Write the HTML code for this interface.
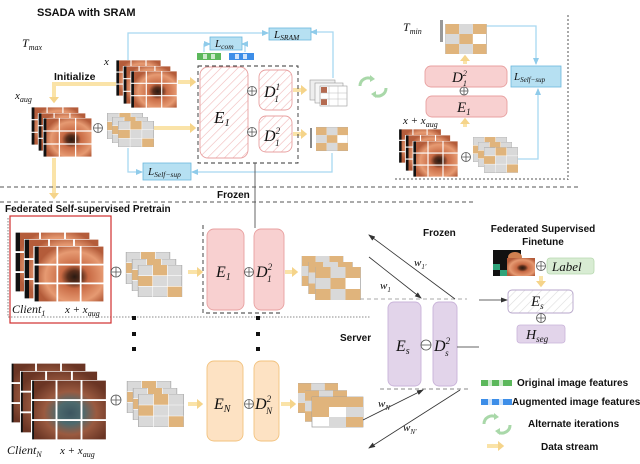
<!DOCTYPE html>
<html><head><meta charset="utf-8"><style>
html,body{margin:0;padding:0;background:#fff;}
svg{display:block;}
.b{font-family:"Liberation Sans",sans-serif;font-weight:bold;fill:#111;}
.m{font-family:"Liberation Serif",serif;font-style:italic;fill:#111;}
</style></head><body>
<svg width="640" height="464" viewBox="0 0 640 464" xmlns="http://www.w3.org/2000/svg">
<defs>
<radialGradient id="eg" cx="0.55" cy="0.55" r="0.6">
<stop offset="0" stop-color="#2a1a12"/><stop offset="0.18" stop-color="#5a2e1c"/><stop offset="0.35" stop-color="#c86a44"/><stop offset="0.75" stop-color="#e69a72"/><stop offset="1" stop-color="#b45c3a"/></radialGradient>
<radialGradient id="eg2" cx="0.5" cy="0.55" r="0.6">
<stop offset="0" stop-color="#3c5560"/><stop offset="0.3" stop-color="#4e6a6e"/><stop offset="0.6" stop-color="#9a5a40"/><stop offset="1" stop-color="#6a3524"/></radialGradient>
<pattern id="hp" width="6" height="6" patternUnits="userSpaceOnUse" patternTransform="rotate(45)"><rect width="6" height="6" fill="#fff"/><line x1="0" y1="0" x2="0" y2="6" stroke="#f0b8b8" stroke-width="1.2"/></pattern>
<pattern id="hg" width="6" height="6" patternUnits="userSpaceOnUse" patternTransform="rotate(45)"><rect width="6" height="6" fill="#fff"/><line x1="0" y1="0" x2="0" y2="6" stroke="#ddd" stroke-width="1.2"/></pattern>
<symbol id="endo" viewBox="0 0 60 48"><rect width="60" height="48" fill="#111"/><rect x="4" width="56" height="48" fill="url(#eg)"/><g stroke="#fff" stroke-width="1.5"><line x1="20" y1="0" x2="20" y2="48"/><line x1="40" y1="0" x2="40" y2="48"/><line x1="0" y1="16" x2="60" y2="16"/><line x1="0" y1="32" x2="60" y2="32"/></g><rect width="60" height="48" fill="none" stroke="#fff" stroke-width="1"/></symbol>
<symbol id="endo2" viewBox="0 0 60 48"><rect width="60" height="48" fill="#111"/><rect x="2" width="58" height="48" fill="url(#eg2)"/><g stroke="#fff" stroke-width="1.5"><line x1="20" y1="0" x2="20" y2="48"/><line x1="40" y1="0" x2="40" y2="48"/><line x1="0" y1="16" x2="60" y2="16"/><line x1="0" y1="32" x2="60" y2="32"/></g><rect width="60" height="48" fill="none" stroke="#fff" stroke-width="1"/></symbol>
<symbol id="puz" viewBox="0 0 45 33"><rect width="45" height="33" fill="#d9d9d9" stroke="#aaa" stroke-width="0.8"/><rect x="15" y="0" width="15" height="11" fill="#e0b47c"/><rect x="30" y="22" width="15" height="11" fill="#e0b47c"/><rect x="0" y="11" width="15" height="11" fill="#e0b47c"/><g stroke="#fff" stroke-width="0.6"><line x1="15" y1="0" x2="15" y2="33"/><line x1="30" y1="0" x2="30" y2="33"/><line x1="0" y1="11" x2="45" y2="11"/><line x1="0" y1="22" x2="45" y2="22"/></g></symbol>
<symbol id="puz2" viewBox="0 0 45 33"><rect width="45" height="33" fill="#fff" stroke="#aaa" stroke-width="0.8"/><rect x="0" y="0" width="15" height="11" fill="#e0b47c"/><rect x="30" y="0" width="15" height="11" fill="#e0b47c"/><rect x="15" y="11" width="15" height="11" fill="#e0b47c"/><rect x="0" y="22" width="15" height="11" fill="#e0b47c"/><rect x="30" y="22" width="15" height="11" fill="#e0b47c"/><rect x="15" y="0" width="15" height="11" fill="#d9d9d9"/><rect x="0" y="11" width="15" height="11" fill="#d9d9d9"/><rect x="15" y="22" width="15" height="11" fill="#d9d9d9"/></symbol>
<marker id="ya" markerWidth="2" markerHeight="2.6" refX="0.3" refY="1.3" orient="auto" markerUnits="strokeWidth"><path d="M0,0 L1.6,1.3 L0,2.6 z" fill="#f5d48a"/></marker>
<marker id="ba" markerWidth="8" markerHeight="8" refX="6" refY="4" orient="auto" markerUnits="userSpaceOnUse"><path d="M0,1 L7,4 L0,7 z" fill="#8fcbea"/></marker>
<marker id="ka" markerWidth="8" markerHeight="8" refX="6" refY="4" orient="auto" markerUnits="userSpaceOnUse"><path d="M0,1.5 L7,4 L0,6.5 z" fill="#333"/></marker>
</defs>

<text class="b" x="37" y="16" font-size="11">SSADA with SRAM</text>
<text class="m" x="22" y="47" font-size="12">T<tspan font-size="8" dy="3">max</tspan></text>
<text class="m" x="104" y="65" font-size="11">x</text>
<text class="b" x="54" y="80" font-size="10.5">Initialize</text>
<text class="m" x="15" y="99" font-size="11">x<tspan font-size="8" dy="3">aug</tspan></text>

<g stroke="#a8d8f0" stroke-width="1.3" fill="none">
<polyline points="128,65 128,33 268,33" marker-end="url(#ba)"/>
<polyline points="333,78 333,32 311,32" marker-end="url(#ba)"/>
<polyline points="204,52 204,44 210,44" marker-end="url(#ba)"/>
<polyline points="245,52 245,44 242,44" marker-end="url(#ba)"/>
<polyline points="128,148 128,172 142,172" marker-end="url(#ba)"/>
<polyline points="332,153 332,172 192,172" marker-end="url(#ba)"/>
<polyline points="482,26 536,26 536,64" marker-end="url(#ba)"/>
<polyline points="518,159 538,159 538,89" marker-end="url(#ba)"/>
</g>
<rect x="269" y="28" width="42" height="12" fill="#b6e0f2" stroke="#6bb8dc" stroke-width="0.8"/>
<text class="m" x="274" y="38" font-size="11">L<tspan font-size="7.5" dy="2">SRAM</tspan></text>
<rect x="210" y="37" width="32" height="13" fill="#b6e0f2" stroke="#6bb8dc" stroke-width="0.8"/>
<text class="m" x="215" y="47" font-size="11">L<tspan font-size="7.5" dy="2">com</tspan></text>
<g><rect x="197" y="53" width="24" height="7" fill="#5cb85c"/><rect x="203" y="54" width="4" height="5" fill="#cdeacd"/><rect x="211" y="54" width="4" height="5" fill="#cdeacd"/>
<rect x="229" y="53" width="25" height="7" fill="#3d8ee8"/><rect x="235" y="54" width="4" height="5" fill="#cfe3fa"/><rect x="243" y="54" width="4" height="5" fill="#cfe3fa"/></g>
<rect x="143" y="163" width="48" height="17" fill="#b6e0f2" stroke="#6bb8dc" stroke-width="0.8"/>
<text class="m" x="148" y="175" font-size="11">L<tspan font-size="7.5" dy="2">Self−sup</tspan></text>

<use href="#endo" x="116" y="60" width="45" height="36"/>
<use href="#endo" x="122" y="66" width="50" height="38"/>
<use href="#endo" x="130" y="71" width="48" height="37"/>
<g stroke="#fae3a8" stroke-width="4" fill="none">
<polyline points="116,84 54,84 54,98" marker-end="url(#ya)"/>
<line x1="178" y1="82" x2="191" y2="82" marker-end="url(#ya)"/>
<line x1="154" y1="128" x2="191" y2="128" marker-end="url(#ya)"/>
<line x1="54" y1="158" x2="54" y2="194" marker-end="url(#ya)"/>
<line x1="293" y1="90" x2="302" y2="90" marker-end="url(#ya)"/>
<line x1="293" y1="134" x2="302" y2="134" marker-end="url(#ya)"/>
<line x1="465" y1="64" x2="465" y2="60" marker-end="url(#ya)"/>
<line x1="465" y1="127" x2="465" y2="123" marker-end="url(#ya)"/>
<line x1="188" y1="272" x2="198" y2="272" marker-end="url(#ya)"/>
<line x1="285" y1="272" x2="293" y2="272" marker-end="url(#ya)"/>
<line x1="188" y1="404" x2="198" y2="404" marker-end="url(#ya)"/>
<line x1="281" y1="404" x2="291" y2="404" marker-end="url(#ya)"/>
<line x1="541" y1="276" x2="541" y2="282" marker-end="url(#ya)"/>
<line x1="487" y1="446" x2="499" y2="446" marker-end="url(#ya)"/>
</g>
<use href="#endo" x="31" y="107" width="48" height="38"/>
<use href="#endo" x="37" y="113" width="50" height="38"/>
<use href="#endo" x="43" y="118" width="49" height="39"/>
<circle cx="98" cy="128" r="4.5" fill="#fff" stroke="#555" stroke-width="0.8"/><path d="M93.5,128h9M98,123.5v9" stroke="#555" stroke-width="0.8"/>
<use href="#puz" x="107" y="113" width="36" height="26"/>
<use href="#puz" x="112" y="117" width="36" height="26"/>
<use href="#puz" x="118" y="121" width="36" height="26"/>

<rect x="198" y="66" width="100" height="97" fill="none" stroke="#333" stroke-width="0.9" stroke-dasharray="4,3"/>
<rect x="200" y="67" width="48" height="91" rx="8" fill="url(#hp)" stroke="#e8a0a0" stroke-width="0.9"/>
<text class="m" x="214" y="123" font-size="17">E<tspan font-size="11" dy="3">1</tspan></text>
<rect x="259" y="70" width="33" height="40" rx="7" fill="url(#hp)" stroke="#e8a0a0" stroke-width="0.9"/>
<rect x="259" y="116" width="33" height="36" rx="7" fill="url(#hp)" stroke="#e8a0a0" stroke-width="0.9"/>
<text class="m" x="264" y="97" font-size="16">D<tspan font-size="9" dy="-7">1</tspan><tspan font-size="9" dx="-5" dy="12">1</tspan></text>
<text class="m" x="264" y="141" font-size="16">D<tspan font-size="9" dy="-7">2</tspan><tspan font-size="9" dx="-5" dy="12">1</tspan></text>
<g fill="#fff" stroke="#555" stroke-width="0.8"><circle cx="252" cy="91" r="4.5"/><circle cx="252" cy="132" r="4.5"/></g>
<path d="M247.5,91h9M252,86.5v9M247.5,132h9M252,127.5v9" stroke="#555" stroke-width="0.8"/>
<rect x="310" y="80" width="25" height="20" fill="#eee" stroke="#999" stroke-width="0.6"/>
<rect x="315" y="83" width="28" height="20" fill="#f6f6f6" stroke="#999" stroke-width="0.6"/>
<rect x="320" y="86" width="27" height="20" fill="#fff" stroke="#999" stroke-width="0.6"/>
<rect x="321" y="87" width="6" height="6" fill="#b46a50"/><rect x="321" y="99" width="6" height="6" fill="#b46a50"/>
<path d="M329,86v20M338,86v20M320,93h27M320,99h27" stroke="#bbb" stroke-width="0.5"/>
<use href="#puz2" x="316" y="126" width="32" height="26"/>
<rect x="310" y="128" width="2" height="20" fill="#888"/>
<g fill="none" stroke="#a9d8a9" stroke-width="3"><path d="M360,86 a8,8 0 0 1 12,-7" /><path d="M386,88 a8,8 0 0 1 -12,7"/></g>
<path d="M370,75 l5,4 -5,3z M376,98 l-5,-4 5,-3z" fill="#a9d8a9"/>

<line x1="568" y1="15" x2="568" y2="180" stroke="#555" stroke-width="1" stroke-dasharray="2,2"/>
<line x1="395" y1="179" x2="568" y2="179" stroke="#555" stroke-width="1" stroke-dasharray="2,2"/>
<text class="m" x="403" y="31" font-size="12">T<tspan font-size="8" dy="3">min</tspan></text>
<rect x="440" y="20" width="3" height="22" fill="#999"/>
<use href="#puz2" x="445" y="24" width="42" height="30"/>
<rect x="425" y="66" width="82" height="21" rx="6" fill="#f8d0d0" stroke="#e8a0a0" stroke-width="0.9"/>
<text class="m" x="452" y="82" font-size="15">D<tspan font-size="8" dy="-6">2</tspan><tspan font-size="8" dx="-4" dy="10">1</tspan></text>
<circle cx="464" cy="91" r="4" fill="#fff" stroke="#555" stroke-width="0.8"/><path d="M460,91h8M464,87v8" stroke="#555" stroke-width="0.8"/>
<rect x="426" y="96" width="81" height="21" rx="6" fill="#f8d0d0" stroke="#e8a0a0" stroke-width="0.9"/>
<text class="m" x="457" y="112" font-size="15">E<tspan font-size="9" dy="3">1</tspan></text>
<text class="m" x="403" y="124" font-size="11">x + x<tspan font-size="8" dy="3">aug</tspan></text>
<rect x="511" y="66" width="50" height="21" fill="#b6e0f2" stroke="#6bb8dc" stroke-width="0.8"/>
<text class="m" x="514" y="80" font-size="11">L<tspan font-size="7" dy="2">Self−sup</tspan></text>
<use href="#endo" x="398" y="129" width="44" height="34"/>
<use href="#endo" x="404" y="135" width="48" height="36"/>
<use href="#endo" x="412" y="141" width="47" height="36"/>
<circle cx="466" cy="157" r="4.5" fill="#fff" stroke="#555" stroke-width="0.8"/><path d="M461.5,157h9M466,152.5v9" stroke="#555" stroke-width="0.8"/>
<use href="#puz" x="473" y="137" width="34" height="25"/>
<use href="#puz" x="478" y="142" width="34" height="25"/>
<use href="#puz" x="484" y="147" width="34" height="26"/>

<line x1="0" y1="187" x2="580" y2="187" stroke="#555" stroke-width="0.9" stroke-dasharray="4,3"/>
<line x1="0" y1="202" x2="475" y2="202" stroke="#555" stroke-width="0.9" stroke-dasharray="4,3"/>
<text class="b" x="217" y="198" font-size="10">Frozen</text>
<line x1="255" y1="163" x2="255" y2="228" stroke="#555" stroke-width="0.9"/>

<text class="b" x="5" y="212" font-size="10">Federated Self-supervised Pretrain</text>
<line x1="8" y1="218" x2="8" y2="317" stroke="#666" stroke-width="0.8" stroke-dasharray="1.5,1.5"/>
<line x1="8" y1="317" x2="370" y2="317" stroke="#666" stroke-width="0.8" stroke-dasharray="1.5,1.5"/>
<rect x="10" y="216" width="101" height="107" fill="none" stroke="#d03030" stroke-width="1.2"/>
<use href="#endo" x="15" y="232" width="75" height="60"/>
<use href="#endo" x="24" y="239" width="75" height="60"/>
<use href="#endo" x="31" y="246" width="76" height="56"/>
<text class="m" x="12" y="313" font-size="12">Client<tspan font-size="8" dy="3">1</tspan></text>
<text class="m" x="65" y="313" font-size="11">x + x<tspan font-size="8" dy="3">aug</tspan></text>
<circle cx="116" cy="272" r="5" fill="#fff" stroke="#555" stroke-width="0.8"/><path d="M111,272h10M116,267v10" stroke="#555" stroke-width="0.8"/>
<use href="#puz" x="123" y="252" width="50" height="32"/>
<use href="#puz" x="129" y="259" width="50" height="32"/>
<use href="#puz" x="135" y="265" width="50" height="32"/>
<g fill="#111"><rect x="132" y="316" width="4" height="4"/><rect x="132" y="332" width="4" height="4"/><rect x="132" y="347" width="4" height="4"/>
<rect x="256" y="316" width="4" height="4"/><rect x="256" y="332" width="4" height="4"/><rect x="256" y="347" width="4" height="4"/></g>

<polyline points="203,225 203,313 282,313" fill="none" stroke="#333" stroke-width="0.9" stroke-dasharray="4,3"/>
<rect x="207" y="229" width="37" height="81" rx="7" fill="#f8d0d0" stroke="#e8a0a0" stroke-width="0.9"/>
<rect x="254" y="229" width="30" height="81" rx="7" fill="#f8d0d0" stroke="#e8a0a0" stroke-width="0.9"/>
<text class="m" x="216" y="277" font-size="16">E<tspan font-size="10" dy="3">1</tspan></text>
<text class="m" x="256" y="277" font-size="16">D<tspan font-size="9" dy="-7">2</tspan><tspan font-size="9" dx="-5" dy="12">1</tspan></text>
<circle cx="249" cy="272" r="4.5" fill="#fff" stroke="#555" stroke-width="0.8"/><path d="M244.5,272h9M249,267.5v9" stroke="#555" stroke-width="0.8"/>
<use href="#puz2" x="300" y="256" width="45" height="30"/>
<use href="#puz2" x="308" y="262" width="45" height="32"/>
<use href="#puz2" x="313" y="267" width="50" height="33"/>

<text class="b" x="340" y="341" font-size="10">Server</text>

<use href="#endo2" x="11" y="363" width="75" height="60"/>
<use href="#endo2" x="20" y="371" width="78" height="62"/>
<use href="#endo2" x="31" y="380" width="76" height="60"/>
<text class="m" x="7" y="454" font-size="12">Client<tspan font-size="8" dy="3">N</tspan></text>
<text class="m" x="60" y="454" font-size="11">x + x<tspan font-size="8" dy="3">aug</tspan></text>
<circle cx="116" cy="400" r="5" fill="#fff" stroke="#555" stroke-width="0.8"/><path d="M111,400h10M116,395v10" stroke="#555" stroke-width="0.8"/>
<use href="#puz" x="124" y="381" width="50" height="32"/>
<use href="#puz" x="130" y="388" width="50" height="32"/>
<use href="#puz" x="136" y="394" width="50" height="33"/>
<rect x="207" y="361" width="36" height="80" rx="7" fill="#fde2c3" stroke="#f2c27e" stroke-width="0.9"/>
<rect x="254" y="361" width="25" height="80" rx="7" fill="#fde2c3" stroke="#f2c27e" stroke-width="0.9"/>
<text class="m" x="214" y="409" font-size="16">E<tspan font-size="10" dy="3">N</tspan></text>
<text class="m" x="255" y="409" font-size="16">D<tspan font-size="9" dy="-7">2</tspan><tspan font-size="9" dx="-5" dy="12">N</tspan></text>
<circle cx="249" cy="404" r="4.5" fill="#fff" stroke="#555" stroke-width="0.8"/><path d="M244.5,404h9M249,399.5v9" stroke="#555" stroke-width="0.8"/>
<use href="#puz2" x="298" y="383" width="40" height="30"/>
<use href="#puz2" x="305" y="390" width="42" height="32"/>
<rect x="312" y="397" width="51" height="30" fill="#fff" stroke="#999" stroke-width="0.7"/>
<rect x="312" y="397" width="51" height="10" fill="#e0b47c"/><rect x="312" y="407" width="17" height="10" fill="#e0b47c"/><rect x="346" y="417" width="17" height="10" fill="#e0b47c"/><rect x="346" y="407" width="17" height="10" fill="#d9d9d9"/><rect x="329" y="417" width="17" height="10" fill="#d9d9d9"/>

<line x1="360" y1="299" x2="467" y2="299" stroke="#aaa" stroke-width="0.9" stroke-dasharray="4,3"/>
<line x1="380" y1="389" x2="470" y2="389" stroke="#888" stroke-width="0.9" stroke-dasharray="4,3"/>
<rect x="388" y="302" width="33" height="84" rx="6" fill="#e2d4ea" stroke="#c9b3d9" stroke-width="0.9"/>
<rect x="433" y="302" width="24" height="84" rx="6" fill="#e2d4ea" stroke="#c9b3d9" stroke-width="0.9"/>
<text class="m" x="396" y="351" font-size="16">E<tspan font-size="10" dy="3">s</tspan></text>
<text class="m" x="434" y="351" font-size="16">D<tspan font-size="9" dy="-7">2</tspan><tspan font-size="9" dx="-5" dy="12">s</tspan></text>
<circle cx="426" cy="345" r="5" fill="#fff" stroke="#555" stroke-width="0.8"/><path d="M421,345h10" stroke="#555" stroke-width="0.8"/>
<text class="b" x="423" y="236" font-size="10">Frozen</text>
<g stroke="#333" stroke-width="0.8">
<line x1="455" y1="299" x2="369" y2="235" marker-end="url(#ka)"/>
<line x1="369" y1="257" x2="421" y2="298" marker-end="url(#ka)"/>
<line x1="363" y1="420" x2="423" y2="390" marker-end="url(#ka)"/>
<line x1="460" y1="390" x2="369" y2="448" marker-end="url(#ka)"/>
<line x1="479" y1="300" x2="507" y2="300" marker-end="url(#ka)"/>
<line x1="457" y1="347" x2="479" y2="347"/>
</g>
<text class="m" x="414" y="266" font-size="11">w<tspan font-size="7" dy="3">1′</tspan></text>
<text class="m" x="380" y="289" font-size="11">w<tspan font-size="7" dy="3">1</tspan></text>
<text class="m" x="378" y="407" font-size="11">w<tspan font-size="7" dy="3">N</tspan></text>
<text class="m" x="403" y="431" font-size="11">w<tspan font-size="7" dy="3">N′</tspan></text>

<text class="b" x="543" y="232" font-size="10" text-anchor="middle">Federated Supervised</text>
<text class="b" x="543" y="245" font-size="10" text-anchor="middle">Finetune</text>
<rect x="493" y="250" width="28" height="26" fill="#111"/>
<rect x="493" y="264" width="7" height="6" fill="#2fa37a"/><rect x="500" y="270" width="9" height="6" fill="#2fa37a"/>
<ellipse cx="515" cy="257" rx="7" ry="5" fill="#d08050"/>
<rect x="507" y="258" width="28" height="18" fill="url(#eg)"/>
<circle cx="541" cy="266" r="4.5" fill="#fff" stroke="#555" stroke-width="0.8"/><path d="M536.5,266h9M541,261.5v9" stroke="#555" stroke-width="0.8"/>
<rect x="547" y="258" width="47" height="16" rx="3" fill="#d8ecd3" stroke="#b8d9b0" stroke-width="0.8"/>
<text class="m" x="552" y="271" font-size="13">Label</text>
<rect x="508" y="290" width="65" height="23" rx="4" fill="url(#hg)" stroke="#b7a6cb" stroke-width="0.9"/>
<text class="m" x="531" y="306" font-size="15">E<tspan font-size="9" dy="3">s</tspan></text>
<circle cx="541" cy="318" r="4.5" fill="#fff" stroke="#555" stroke-width="0.8"/><path d="M536.5,318h9M541,313.5v9" stroke="#555" stroke-width="0.8"/>
<rect x="517" y="325" width="48" height="18" rx="3" fill="#e2d4ea" stroke="#c9b3d9" stroke-width="0.8"/>
<text class="m" x="526" y="339" font-size="14">H<tspan font-size="9" dy="3">seg</tspan></text>

<rect x="481" y="380" width="31" height="6" fill="#5cb85c"/><rect x="488" y="380" width="4" height="6" fill="#cdeacd"/><rect x="499" y="380" width="4" height="6" fill="#cdeacd"/>
<text class="b" x="517" y="386" font-size="10">Original image features</text>
<rect x="481" y="399" width="31" height="6" fill="#3d8ee8"/><rect x="488" y="399" width="4" height="6" fill="#cfe3fa"/><rect x="499" y="399" width="4" height="6" fill="#cfe3fa"/>
<text class="b" x="512" y="405" font-size="10">Augmented image features</text>
<g fill="none" stroke="#a9d8a9" stroke-width="3"><path d="M484,424 a8,8 0 0 1 12,-7"/><path d="M510,425 a8,8 0 0 1 -12,7"/></g>
<path d="M494,413 l5,4 -5,3z M500,435 l-5,-4 5,-3z" fill="#a9d8a9"/>
<text class="b" x="528" y="427" font-size="10">Alternate iterations</text>
<text class="b" x="541" y="450" font-size="10">Data stream</text>
</svg>
</body></html>
